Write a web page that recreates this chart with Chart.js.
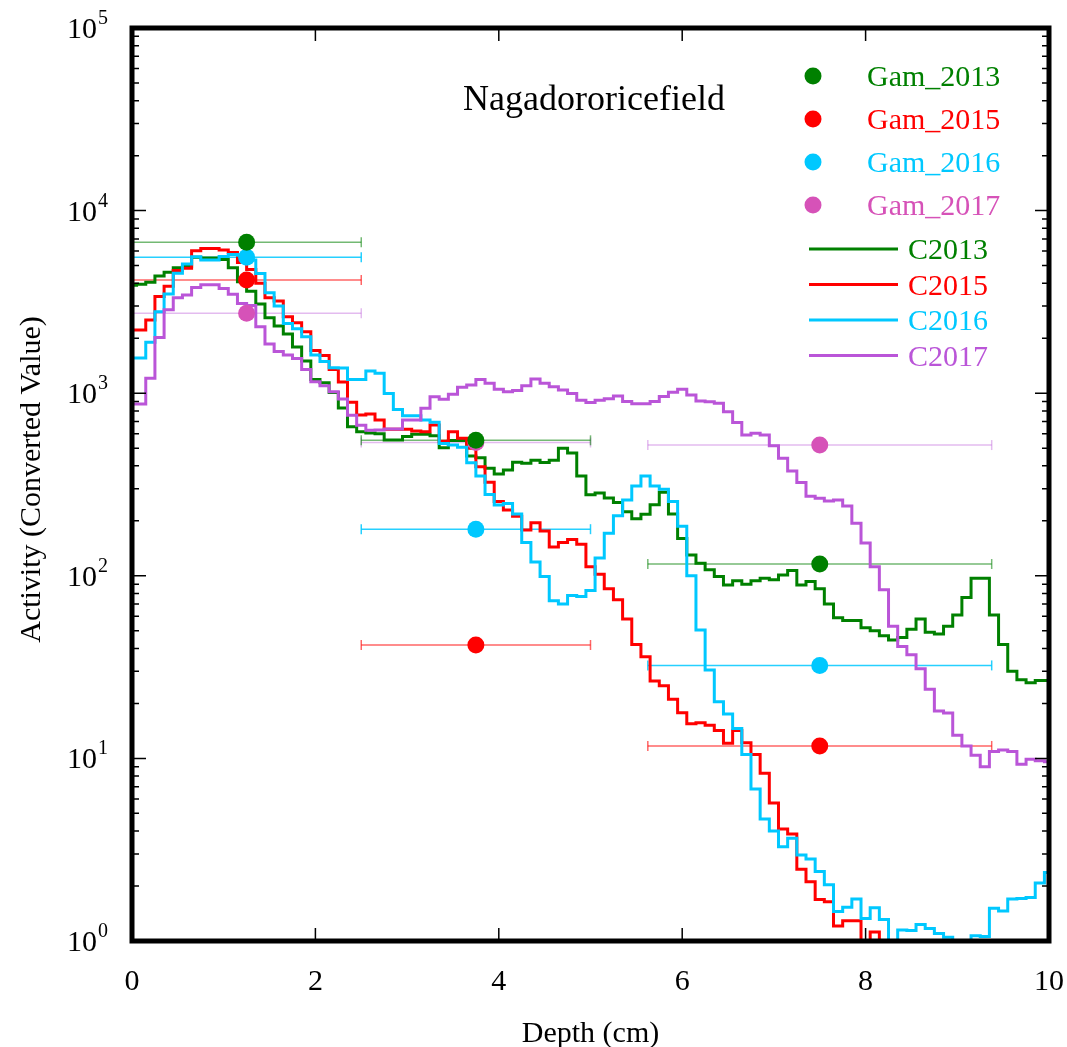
<!DOCTYPE html>
<html><head><meta charset="utf-8">
<script src="https://cdn.jsdelivr.net/npm/chart.js@4/dist/chart.umd.min.js"></script>
<style>html,body{margin:0;padding:0;background:#fff}#wrap{width:1067px;height:1047px;position:relative}</style>
</head><body><div id="wrap"><canvas id="c"></canvas></div>
<script>
// Depth grid (cm)
const depth = [0,0.1,0.2,0.3,0.4,0.5,0.6,0.7,0.8,0.9,1,1.1,1.2,1.3,1.4,1.5,1.6,1.7,1.8,1.9,2,2.1,2.2,2.3,2.4,2.5,2.6,2.7,2.8,2.9,3,3.1,3.2,3.3,3.4,3.5,3.6,3.7,3.8,3.9,4,4.1,4.2,4.3,4.4,4.5,4.6,4.7,4.8,4.9,5,5.1,5.2,5.3,5.4,5.5,5.6,5.7,5.8,5.9,6,6.1,6.2,6.3,6.4,6.5,6.6,6.7,6.8,6.9,7,7.1,7.2,7.3,7.4,7.5,7.6,7.7,7.8,7.9,8,8.1,8.2,8.3,8.4,8.5,8.6,8.7,8.8,8.9,9,9.1,9.2,9.3,9.4,9.5,9.6,9.7,9.8,9.9,10];

const C2013 = [3900,3950,4050,4390,4590,4870,4950,5550,5500,5500,
  5400,4870,4080,3620,3080,2590,2330,2110,1790,1500,
  1190,1140,1010,830,656,615,605,600,554,554,
  580,596,596,585,503,550,550,453,443,388,
  361,380,418,414,430,417,430,500,470,352,
  278,284,267,252,224,205,217,245,287,218,
  160,130,117,108,99,89,94,90,94,97,
  95,101,107,89,93,85,70,59,57,57,
  52,50,47,44.5,46,51,58,49,48,53,
  61,76,97,97,61,42,30,27,26,26.7,
  26.7];
const C2015 = [2220,2220,2520,3380,3850,4700,4830,6030,6210,6210,
  6090,5900,5200,4760,4000,3330,3200,2620,2430,2170,
  1715,1610,1350,1150,891,760,769,713,634,634,
  634,620,615,670,545,615,566,500,396,325,
  255,229,212,178,195,176,144,152,158,149,
  112,102,85,74,58,42,36,26.5,25,21.1,
  17.8,15.5,15.7,15.2,14.2,12.1,14.2,12.2,10.5,8.3,
  5.7,4.1,3.85,2.47,2.11,1.69,1.64,1.21,1.29,1.29,
  0.8,1.12,0.5,0.5,0.5,0.5,0.5,0.5,0.5,0.5,
  0.5,0.5,0.5,0.5,0.5,0.5,0.5,0.5,0.5,0.5,
  0.5];
const C2016 = [1560,1560,1900,2790,3490,4540,5100,5580,5370,5370,
  5600,5750,5700,5370,4520,3550,3000,2410,2255,2040,
  1620,1490,1380,1375,1190,1190,1325,1285,995,813,
  753,753,713,693,531,520,506,416,352,279,
  244,249,218,152,119,99,73,70,78,77,
  83,125,171,213,260,310,352,310,298,255,
  187,100,50.5,30.5,20.4,17.5,14.6,10.5,6.8,4.66,
  4.0,3.28,3.65,2.96,2.81,2.4,2.03,1.45,1.53,1.7,
  1.33,1.52,1.31,0.8,1.15,1.14,1.23,1.17,1.1,1.05,
  0.95,0.95,1.07,1.06,1.51,1.46,1.7,1.71,1.73,2.08,
  2.37];
const C2017 = [873,873,1206,2020,2860,3330,3450,3790,3920,3920,
  3750,3480,3100,3020,2310,1860,1690,1620,1550,1350,
  1155,1097,1020,930,757,667,627,629,637,637,
  713,713,826,957,926,986,1077,1109,1190,1133,
  1050,1019,1035,1100,1197,1133,1086,1041,995,915,
  889,914,933,966,902,875,875,902,958,1012,
  1050,977,906,898,881,792,692,590,603,590,
  516,440,375,324,273,266,257,260,241,194,
  151,112,84,53,41,37,31,23.9,18.2,17.7,
  13.4,11.7,10.4,9.0,10.9,11.1,10.9,9.3,9.9,9.7,
  9.6];

// Gamma measurements (layer centre depth, half-width)
const gamDepth = [1.25, 3.75, 7.5];
const gamDepthErr = [1.25, 1.25, 1.875];
const Gam_2013 = [6700, 552, 116];
const Gam_2015 = [4170, 41.8, 11.7];
const Gam_2016 = [5550, 180, 32.3];
const Gam_2017 = [2740, 537, 520];

// Axis ticks
const xTicks = [0, 2, 4, 6, 8, 10];
const yExponents = [0, 1, 2, 3, 4, 5];
const yMinorMult = [2, 3, 4, 5, 6, 7, 8, 9];

const GREEN = 'rgb(0,128,0)', RED = 'rgb(255,0,0)', CYAN = 'rgb(0,200,255)', PURPLE = 'rgb(186,85,216)', PINK = 'rgb(214,82,184)';
const FONT = '"Liberation Serif", "Times New Roman", serif';

const lineSeries = [
  {label:'C2013', vals:C2013, color:GREEN, order:4},
  {label:'C2015', vals:C2015, color:RED, order:3},
  {label:'C2016', vals:C2016, color:CYAN, order:2},
  {label:'C2017', vals:C2017, color:PURPLE, order:1}
];
const gamSeries = [
  {label:'Gam_2013', vals:Gam_2013, color:GREEN, err:'rgba(0,128,0,0.55)'},
  {label:'Gam_2015', vals:Gam_2015, color:RED, err:'rgba(255,0,0,0.6)'},
  {label:'Gam_2016', vals:Gam_2016, color:CYAN, err:'rgba(0,200,255,0.85)'},
  {label:'Gam_2017', vals:Gam_2017, color:PINK, err:'rgba(186,85,216,0.4)'}
];

const datasets = [];
gamSeries.forEach(g => {
  const pts = [];
  gamDepth.forEach((d, i) => {
    pts.push({x: d - gamDepthErr[i], y: g.vals[i]});
    pts.push({x: d + gamDepthErr[i], y: g.vals[i]});
    pts.push({x: d + gamDepthErr[i], y: null});
  });
  datasets.push({type:'line', label:g.label+'_err', data:pts, borderColor:g.err, borderWidth:1.5,
    pointStyle:'line', pointRotation:90, pointRadius:5, pointBorderColor:g.err, pointBorderWidth:1.5,
    spanGaps:false, fill:false, order:10});
});
lineSeries.forEach(s => {
  datasets.push({type:'line', label:s.label, data:depth.map((x, i) => ({x, y:s.vals[i]})),
    borderColor:s.color, borderWidth:3, stepped:'middle', pointRadius:0, fill:false, order:s.order});
});
gamSeries.forEach(g => {
  datasets.push({type:'scatter', label:g.label, data:gamDepth.map((x, i) => ({x, y:g.vals[i]})),
    pointRadius:8.5, pointBackgroundColor:g.color, pointBorderWidth:0, showLine:false, order:0});
});

const decor = {
  id:'decor',
  afterDraw(chart) {
    const {ctx, chartArea:a, scales:{x, y}} = chart;
    ctx.save();
    ctx.strokeStyle = '#000'; ctx.lineWidth = 1.5;
    ctx.beginPath();
    yExponents.forEach(e => {
      const py = y.getPixelForValue(Math.pow(10, e));
      ctx.moveTo(a.left, py); ctx.lineTo(a.left + 14, py);
      ctx.moveTo(a.right, py); ctx.lineTo(a.right - 14, py);
      if (e < yExponents[yExponents.length - 1]) {
        yMinorMult.forEach(m => {
          const q = y.getPixelForValue(m * Math.pow(10, e));
          ctx.moveTo(a.left, q); ctx.lineTo(a.left + 7, q);
          ctx.moveTo(a.right, q); ctx.lineTo(a.right - 7, q);
        });
      }
    });
    xTicks.forEach(t => {
      const px = x.getPixelForValue(t);
      ctx.moveTo(px, a.bottom); ctx.lineTo(px, a.bottom - 13);
      ctx.moveTo(px, a.top); ctx.lineTo(px, a.top + 13);
    });
    ctx.stroke();
    ctx.lineWidth = 5;
    ctx.strokeRect(a.left, a.top, a.right - a.left, a.bottom - a.top);

    ctx.fillStyle = '#000';
    ctx.textBaseline = 'alphabetic';
    // y tick labels 10^n
    yExponents.forEach(e => {
      const py = y.getPixelForValue(Math.pow(10, e));
      ctx.font = '30px ' + FONT; ctx.textAlign = 'right';
      ctx.fillText('10', a.left - 35, py + 10);
      ctx.font = '20px ' + FONT; ctx.textAlign = 'left';
      ctx.fillText(String(e), a.left - 34, py - 4);
    });
    // x tick labels
    ctx.font = '30px ' + FONT; ctx.textAlign = 'center';
    xTicks.forEach(t => ctx.fillText(String(t), x.getPixelForValue(t), 990));
    // axis titles
    ctx.fillText('Depth (cm)', (a.left + a.right) / 2, 1042);
    ctx.save();
    ctx.translate(40, (a.top + a.bottom) / 2 - 5);
    ctx.rotate(-Math.PI / 2);
    ctx.fillText('Activity (Converted Value)', 0, 0);
    ctx.restore();
    // title
    ctx.font = '36px ' + FONT;
    ctx.fillText('Nagadororicefield', 594, 110);
    // legend
    ctx.font = '30px ' + FONT; ctx.textAlign = 'left';
    gamSeries.forEach((g, i) => {
      const cy = 76 + i * 43;
      ctx.fillStyle = g.color;
      ctx.beginPath(); ctx.arc(813, cy, 8.5, 0, Math.PI * 2); ctx.fill();
      ctx.fillText(g.label, 867, cy + 10);
    });
    lineSeries.forEach((s, i) => {
      const cy = 249 + i * 35.5;
      ctx.strokeStyle = s.color; ctx.lineWidth = 3;
      ctx.beginPath(); ctx.moveTo(809, cy); ctx.lineTo(898, cy); ctx.stroke();
      ctx.fillStyle = s.color;
      ctx.fillText(s.label, 908, cy + 10);
    });
    ctx.restore();
  }
};

new Chart(document.getElementById('c'), {
  data: {datasets},
  options: {
    responsive: true, maintainAspectRatio: false, animation: false,
    layout: {padding: {left:132, right:18, top:28, bottom:106}},
    plugins: {legend:{display:false}, tooltip:{enabled:false}, title:{display:false}},
    scales: {
      x: {type:'linear', min:0, max:10, ticks:{display:false}, grid:{display:false}, border:{display:false}, afterFit(s){ s.height = 0; }},
      y: {type:'logarithmic', min:1, max:100000, ticks:{display:false}, grid:{display:false}, border:{display:false}, afterFit(s){ s.width = 0; }}
    }
  },
  plugins: [decor]
});
</script>
</body></html>
